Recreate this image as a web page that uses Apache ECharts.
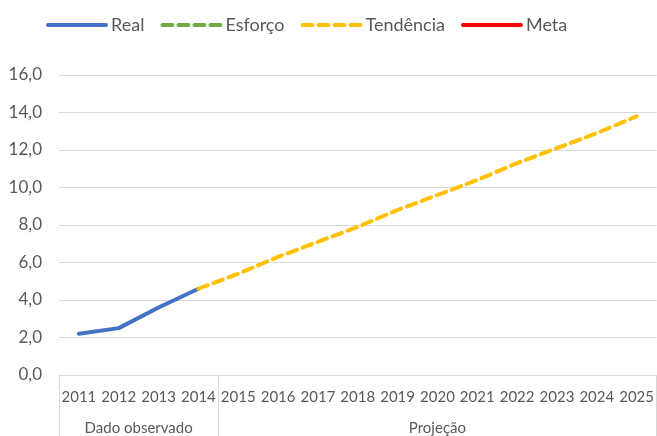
<!DOCTYPE html>
<html>
<head>
<meta charset="utf-8">
<script src="https://cdn.jsdelivr.net/npm/echarts@6/dist/echarts.min.js"></script>
<style>
html,body{margin:0;padding:0;background:#fff;}
#c{width:657px;height:436px;}
</style>
</head>
<body>
<div id="c"></div>
<script>
var years = ['2011','2012','2013','2014','2015','2016','2017','2018','2019','2020','2021','2022','2023','2024','2025'];
var real = [2.2, 2.5, 3.6, 4.6, null, null, null, null, null, null, null, null, null, null, null];
var esforco = [null, null, null, null, null, null, null, null, null, null, null, null, null, null, null];
var tendencia = [null, null, null, 4.6, 5.4, 6.3, 7.1, 7.9, 8.8, 9.6, 10.4, 11.3, 12.1, 12.9, 13.8];
var meta = [null, null, null, null, null, null, null, null, null, null, null, null, null, null, null];
var groupNames = ['Dado observado', 'Projeção'];
var groupSizes = [4, 11];

var bounds = [0], centers = [];
groupSizes.forEach(function (s, i) {
  centers.push(bounds[i] + s / 2);
  bounds.push(bounds[i] + s);
});

var font = 'Lato, "Open Sans", sans-serif';
var txt = '#595959';

var chart = echarts.init(document.getElementById('c'));
chart.setOption({
  animation: false,
  textStyle: { fontFamily: font },
  legend: {
    top: 11,
    left: 41,
    itemWidth: 58,
    itemHeight: 14,
    itemGap: 16,
    itemStyle: { opacity: 0 },
    lineStyle: { width: 4 },
    textStyle: { fontSize: 18, color: txt, fontFamily: font },
    data: ['Real', 'Esforço', 'Tendência', 'Meta']
  },
  grid: { left: 59, right: 0, top: 75, bottom: 61, containLabel: false },
  xAxis: [
    {
      type: 'category',
      data: years,
      boundaryGap: true,
      axisLine: { lineStyle: { color: '#d9d9d9', width: 1 } },
      axisTick: { show: false },
      axisLabel: { color: txt, fontSize: 15, margin: 15, interval: 0, fontFamily: font }
    },
    {
      type: 'value',
      min: 0,
      max: years.length,
      position: 'bottom',
      axisLine: { show: false },
      splitLine: { show: false },
      axisTick: {
        show: true,
        customValues: bounds,
        length: 61,
        lineStyle: { color: '#d9d9d9', width: 1 }
      },
      axisLabel: {
        show: true,
        customValues: centers,
        margin: 46,
        color: txt,
        fontSize: 15,
        fontFamily: font,
        formatter: function (v) {
          var i = centers.indexOf(v);
          return i >= 0 ? groupNames[i] : '';
        }
      }
    }
  ],
  yAxis: {
    type: 'value',
    min: 0,
    max: 16,
    interval: 2,
    axisLine: { show: false },
    axisTick: { show: false },
    splitLine: { lineStyle: { color: '#d9d9d9', width: 1 } },
    axisLabel: {
      color: txt,
      fontSize: 17,
      margin: 17,
      fontFamily: font,
      formatter: function (v) { return v.toFixed(1).replace('.', ','); }
    }
  },
  series: [
    {
      name: 'Real', type: 'line', data: real, symbol: 'none',
      xAxisIndex: 0,
      lineStyle: { color: '#4472C4', width: 4, cap: 'round' },
      itemStyle: { color: '#4472C4' }
    },
    {
      name: 'Esforço', type: 'line', data: esforco, symbol: 'none',
      xAxisIndex: 0,
      lineStyle: { color: '#70AD47', width: 4, type: [10, 6], cap: 'round' },
      itemStyle: { color: '#70AD47' }
    },
    {
      name: 'Tendência', type: 'line', data: tendencia, symbol: 'none',
      xAxisIndex: 0,
      lineStyle: { color: '#FFC000', width: 4, type: [10, 6], cap: 'round' },
      itemStyle: { color: '#FFC000' }
    },
    {
      name: 'Meta', type: 'line', data: meta, symbol: 'none',
      xAxisIndex: 0,
      lineStyle: { color: '#FF0000', width: 4, cap: 'round' },
      itemStyle: { color: '#FF0000' }
    }
  ]
});
</script>
</body>
</html>
